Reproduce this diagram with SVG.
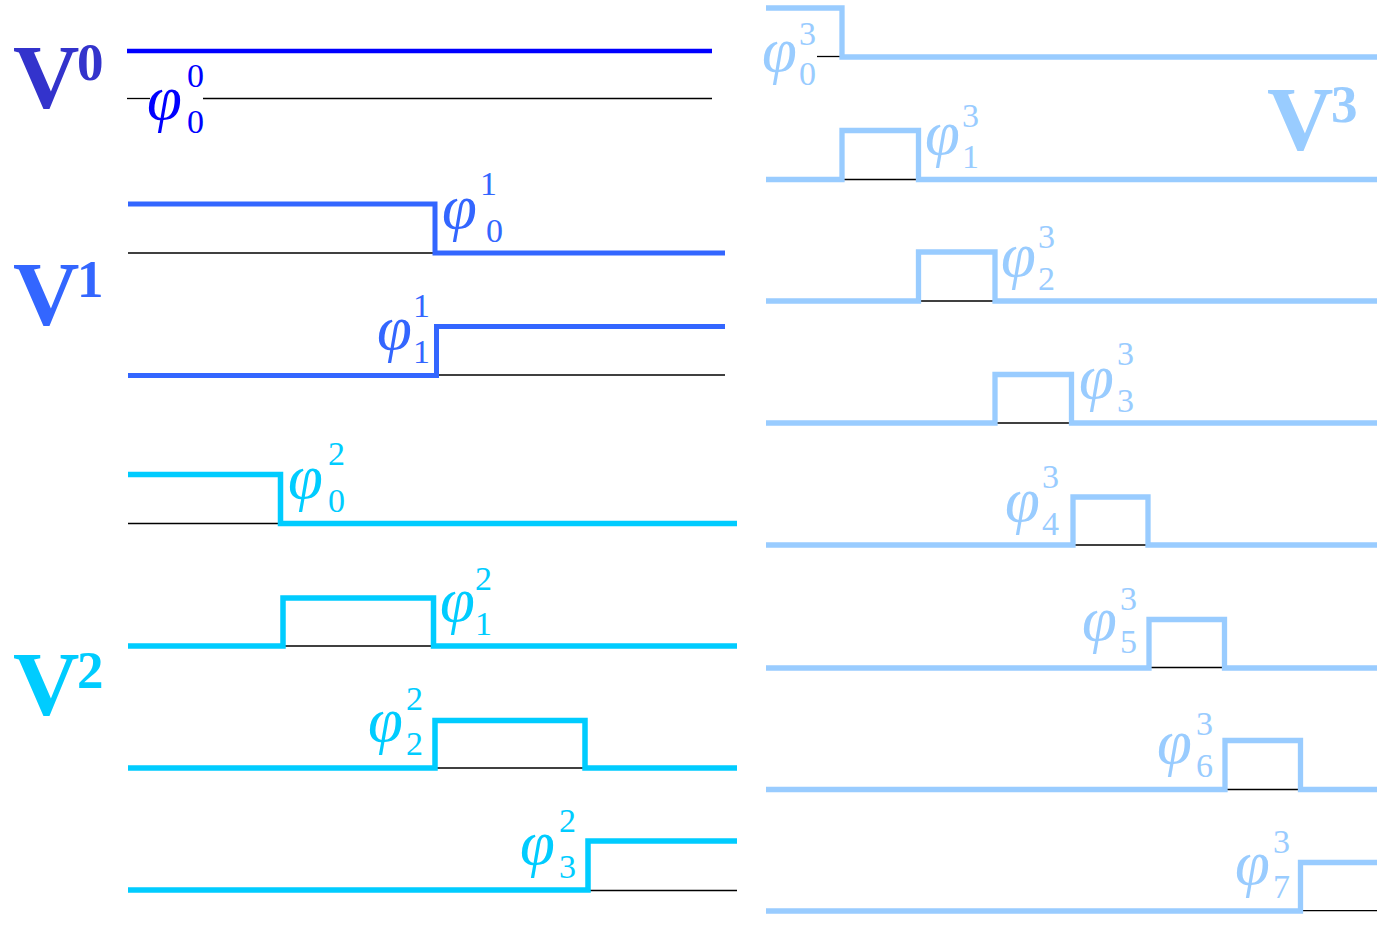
<svg xmlns="http://www.w3.org/2000/svg" width="1386" height="925" viewBox="0 0 1386 925">
<style>
.w{fill:none;stroke-linejoin:miter;stroke-linecap:butt}
.b{fill:none;stroke:#000;stroke-width:1.3}
.c0{stroke:#0000ff;stroke-width:4.5}
.c1{stroke:#3366ff;stroke-width:5}
.c2{stroke:#00ccff;stroke-width:5.5}
.c3{stroke:#99ccff;stroke-width:5.3}
.phi{font-family:"Liberation Serif",serif;font-style:italic;font-size:63px}
.ix{font-family:"Liberation Serif",serif;font-size:34px}
.V{font-family:"Liberation Serif",serif;font-weight:bold;font-size:92px}
.Vs{font-family:"Liberation Serif",serif;font-weight:bold;font-size:53px}
.t0{fill:#0000ff}.t1{fill:#3366ff}.t2{fill:#00ccff}.t3{fill:#99ccff}
</style>
<rect width="1386" height="925" fill="#fff"/>
<g id="connectors">
<line class="b" x1="127" y1="98.5" x2="150" y2="98.5"/>
<line class="b" x1="203" y1="98.5" x2="712" y2="98.5"/>
<polyline class="w c0" points="127,51 712,51"/>
<line class="b" x1="128" y1="253" x2="435" y2="253"/>
<polyline class="w c1" points="128,204 435,204 435,253 725,253"/>
<line class="b" x1="436" y1="375" x2="725" y2="375"/>
<polyline class="w c1" points="128,375.5 436.5,375.5 436.5,326.5 725,326.5"/>
<line class="b" x1="128" y1="523.5" x2="280" y2="523.5"/>
<polyline class="w c2" points="128,474.5 280.5,474.5 280.5,523.5 737,523.5"/>
<line class="b" x1="283" y1="646" x2="433" y2="646"/>
<polyline class="w c2" points="128,646 283,646 283,598 433.5,598 433.5,646 737,646"/>
<line class="b" x1="435" y1="768" x2="585" y2="768"/>
<polyline class="w c2" points="128,768 435,768 435,720.5 585,720.5 585,768 737,768"/>
<line class="b" x1="588" y1="890.5" x2="737" y2="890.5"/>
<polyline class="w c2" points="128,890 588,890 588,841 737,841"/>
<line class="b" x1="817" y1="56.5" x2="842" y2="56.5"/>
<polyline class="w c3" points="766,8 842,8 842,57 1377,57"/>
<line class="b" x1="842" y1="179.5" x2="918.5" y2="179.5"/>
<polyline class="w c3" points="766,179.5 842,179.5 842,130.5 918.5,130.5 918.5,179.5 1377,179.5"/>
<line class="b" x1="918.5" y1="301" x2="995" y2="301"/>
<polyline class="w c3" points="766,301 918.5,301 918.5,252 995,252 995,301 1377,301"/>
<line class="b" x1="995" y1="423" x2="1071.5" y2="423"/>
<polyline class="w c3" points="766,423 995,423 995,374.5 1071.5,374.5 1071.5,423 1377,423"/>
<line class="b" x1="1073" y1="545" x2="1148" y2="545"/>
<polyline class="w c3" points="766,545 1073,545 1073,497 1148,497 1148,545 1377,545"/>
<line class="b" x1="1149" y1="667.5" x2="1224.5" y2="667.5"/>
<polyline class="w c3" points="766,668 1149,668 1149,619.5 1224.5,619.5 1224.5,668 1377,668"/>
<line class="b" x1="1225" y1="789.5" x2="1300.5" y2="789.5"/>
<polyline class="w c3" points="766,789.5 1225,789.5 1225,740.5 1300.5,740.5 1300.5,789.5 1377,789.5"/>
<line class="b" x1="1300.5" y1="910.7" x2="1377" y2="910.7"/>
<polyline class="w c3" points="766,911 1300.5,911 1300.5,862.5 1377,862.5"/>
</g>
<g id="V0"><text class="V" x="13" y="108" fill="#3333cc">V</text><text class="Vs" x="77" y="80" fill="#3333cc">0</text></g>
<g id="V1"><text class="V" x="13" y="325" fill="#3366ff">V</text><text class="Vs" x="77" y="297" fill="#3366ff">1</text></g>
<g id="V2"><text class="V" x="13" y="715" fill="#00ccff">V</text><text class="Vs" x="77" y="688" fill="#00ccff">2</text></g>
<g id="V3"><text class="V" x="1267" y="150" fill="#99ccff">V</text><text class="Vs" x="1331" y="122" fill="#99ccff">3</text></g>
<g id="phi00" class="t0"><text class="phi" x="147" y="119">φ</text><text class="ix" x="187" y="87">0</text><text class="ix" x="187" y="133">0</text></g>
<g id="phi10" class="t1"><text class="phi" x="442" y="228">φ</text><text class="ix" x="480" y="195">1</text><text class="ix" x="486" y="242">0</text></g>
<g id="phi11" class="t1"><text class="phi" x="377" y="349">φ</text><text class="ix" x="413" y="317">1</text><text class="ix" x="413" y="363">1</text></g>
<g id="phi20" class="t2"><text class="phi" x="288" y="498">φ</text><text class="ix" x="328" y="465">2</text><text class="ix" x="328" y="512">0</text></g>
<g id="phi21" class="t2"><text class="phi" x="440" y="621">φ</text><text class="ix" x="475" y="590">2</text><text class="ix" x="475" y="635">1</text></g>
<g id="phi22" class="t2"><text class="phi" x="368" y="741">φ</text><text class="ix" x="406" y="710">2</text><text class="ix" x="406" y="755">2</text></g>
<g id="phi23" class="t2"><text class="phi" x="520" y="864">φ</text><text class="ix" x="559" y="832">2</text><text class="ix" x="559" y="878">3</text></g>
<g id="phi30" class="t3"><text class="phi" x="762" y="71">φ</text><text class="ix" x="799" y="45">3</text><text class="ix" x="799" y="85">0</text></g>
<g id="phi31" class="t3"><text class="phi" x="925" y="154">φ</text><text class="ix" x="962" y="127">3</text><text class="ix" x="962" y="168">1</text></g>
<g id="phi32" class="t3"><text class="phi" x="1001" y="276">φ</text><text class="ix" x="1038" y="248">3</text><text class="ix" x="1038" y="290">2</text></g>
<g id="phi33" class="t3"><text class="phi" x="1079" y="398">φ</text><text class="ix" x="1117" y="365">3</text><text class="ix" x="1117" y="412">3</text></g>
<g id="phi34" class="t3"><text class="phi" x="1005" y="521">φ</text><text class="ix" x="1042" y="488">3</text><text class="ix" x="1042" y="535">4</text></g>
<g id="phi35" class="t3"><text class="phi" x="1082" y="640">φ</text><text class="ix" x="1120" y="610">3</text><text class="ix" x="1120" y="653">5</text></g>
<g id="phi36" class="t3"><text class="phi" x="1157" y="763">φ</text><text class="ix" x="1196" y="735">3</text><text class="ix" x="1196" y="777">6</text></g>
<g id="phi37" class="t3"><text class="phi" x="1235" y="884">φ</text><text class="ix" x="1273" y="853">3</text><text class="ix" x="1273" y="898">7</text></g>
</svg>
